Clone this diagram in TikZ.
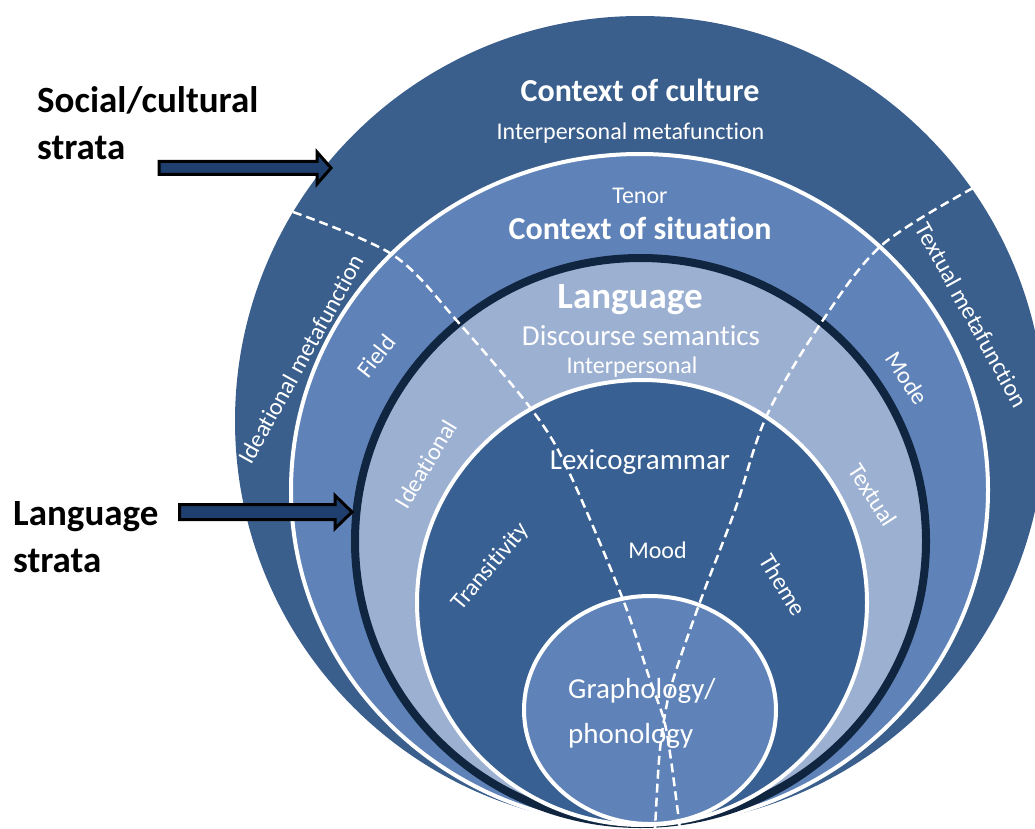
\documentclass[tikz,border=0pt]{standalone}
\usepackage{fontspec}
\setmainfont{Carlito}[Ligatures={NoCommon}]
\definecolor{cult}{HTML}{3A5F8C}
\definecolor{sit}{HTML}{5F83B8}
\definecolor{lang}{HTML}{9CB0D2}
\definecolor{lexi}{HTML}{386092}
\definecolor{darkrim}{HTML}{10253F}
\definecolor{arrowc}{HTML}{1F3F6F}
\begin{document}
\begin{tikzpicture}[x=1pt,y=-1pt,
  small/.style={text=white, inner sep=0pt, font=\fontsize{24}{28}\selectfont},
  mid/.style={text=white, inner sep=0pt, font=\fontsize{29}{34}\selectfont},
  big/.style={text=white, inner sep=0pt, font=\bfseries\fontsize{32}{38}\selectfont},
  huge/.style={text=white, inner sep=0pt, font=\bfseries\fontsize{37}{44}\selectfont},
  side/.style={text=black, inner sep=0pt, anchor=base west, font=\bfseries\fontsize{37}{44}\selectfont},
  ring/.style={line width=4pt, draw=white},
  divider/.style={white, line width=2.5pt, dash pattern=on 9pt off 5pt},
  blockarrow/.style={draw=black, line width=3pt, fill=arrowc, line join=miter}]
\useasboundingbox (0,0) rectangle (1035,829);
\clip (0,0) rectangle (1035,829);
% strata
\fill[cult] (640,421) ellipse [x radius=405pt, y radius=405pt];
\draw[ring, fill=sit] (639.5,490) ellipse [x radius=348.5pt, y radius=336pt];
\draw[draw=darkrim, line width=8pt, fill=lang] (640.5,541) ellipse [x radius=285.5pt, y radius=283pt];
\draw[ring, fill=lexi] (642,602.5) ellipse [x radius=225pt, y radius=222.5pt];
\draw[ring, fill=sit] (650,710) ellipse [x radius=126pt, y radius=114pt];
% metafunction dividers
\draw[divider] plot[smooth, tension=0.55] coordinates {(293,212) (393,255) (458,322) (532,410) (568,470) (622,597) (650,680) (664,720) (671,760) (680,829)};
\draw[divider] plot[smooth, tension=0.55] coordinates {(973,188) (882,245) (823,320) (767,415) (735,510) (700,602) (673,680) (664,720) (659,760) (655,829)};
% titles
\node[big, anchor=base] (culture) at (640,102) {Context of culture};
\node[small, anchor=base] (interp1) at (630.5,140) {Interpersonal metafunction};
\node[small, anchor=base] (tenor) at (640,204) {Tenor};
\node[big, anchor=base] (situation) at (640,239) {Context of situation};
\node[huge, anchor=base] (language) at (630,308) {Language};
\node[mid, anchor=base] (discourse) at (641,345) {Discourse semantics};
\node[small, anchor=base] (interp2) at (632,373) {Interpersonal};
\node[mid, anchor=base] (lexico) at (640,469) {Lexicogrammar};
\node[small, anchor=base] (mood) at (657.5,558) {Mood};
\node[mid, anchor=base west] (graph) at (568,698) {Graphology/};
\node[mid, anchor=base west] (phon) at (568,743) {phonology};
% rotated labels
\node[small, rotate=61] (idmeta) at (301,359) {Ideational metafunction};
\node[small, rotate=52] (field) at (376,356) {Field};
\node[small, rotate=59] (ideational) at (426,464) {Ideational};
\node[small, rotate=50] (trans) at (491,567) {Transitivity};
\node[small, rotate=-61] (txmeta) at (972,315) {Textual metafunction};
\node[small, rotate=-57] (mode) at (907,378) {Mode};
\node[small, rotate=-57] (textual) at (873,495) {Textual};
\node[small, rotate=-59] (theme) at (783,585) {Theme};
% side labels
\node[side] (soc1) at (37,113) {Social/cultural};
\node[side] (soc2) at (37,160) {strata};
\node[side] (lang1) at (13,525) {Language};
\node[side] (lang2) at (13,572) {strata};
% arrows
\draw[blockarrow] (159,161.5) -- (317,161.5) -- (317,152) -- (331,168) -- (317,184) -- (317,174.5) -- (159,174.5) -- cycle;
\draw[blockarrow] (179.5,504.5) -- (335,504.5) -- (335,495.5) -- (352,512) -- (335,528.5) -- (335,519.5) -- (179.5,519.5) -- cycle;
\end{tikzpicture}
\end{document}
